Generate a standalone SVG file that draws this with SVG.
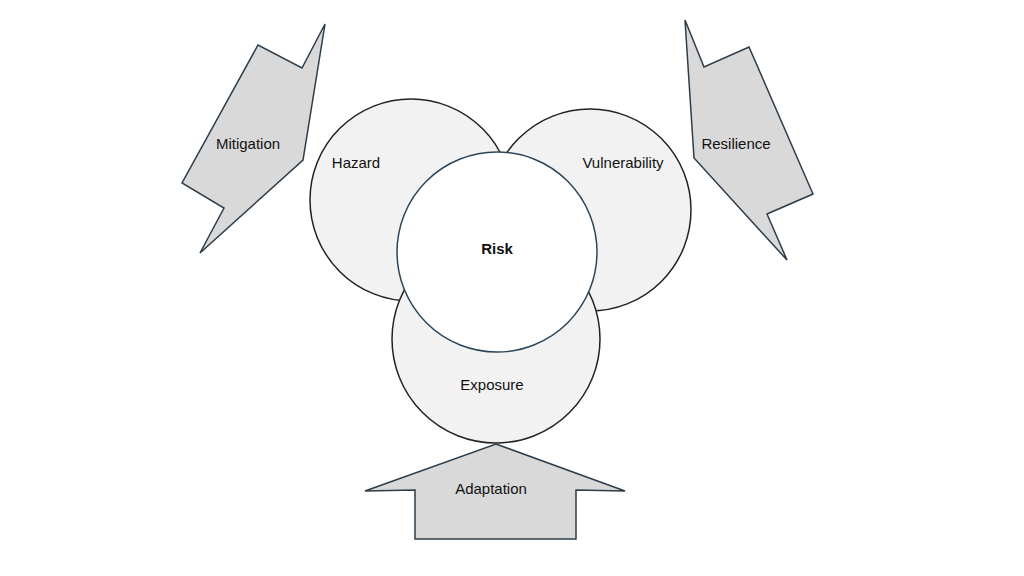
<svg xmlns="http://www.w3.org/2000/svg" width="1024" height="576" viewBox="0 0 1024 576">
<style>
.c{fill:#f2f2f2;stroke:#222;stroke-width:1.5}
.r{fill:#fff;stroke:#2d4657;stroke-width:1.5}
.a{fill:#d9d9d9;stroke:#2d3d4a;stroke-width:1.5;stroke-linejoin:miter}
text{font-family:"Liberation Sans",Arial,sans-serif;font-size:15px;fill:#111;text-anchor:middle}
</style>
<rect width="1024" height="576" fill="#fff"/>
<g id="hazard"><circle class="c" cx="411" cy="200" r="101"/></g>
<g id="vulnerability"><circle class="c" cx="590" cy="210" r="101"/></g>
<g id="exposure"><circle class="c" cx="496" cy="339" r="104"/></g>
<g id="risk"><circle class="r" cx="497" cy="252" r="100"/></g>
<text x="356" y="168">Hazard</text>
<text x="623" y="168">Vulnerability</text>
<text x="492" y="390">Exposure</text>
<text x="497" y="254" font-weight="bold">Risk</text>
<g id="mitigation"><polygon class="a" points="325,24 302,68 258,45 182,183 224,208 200,253 303,160"/><text x="248" y="149">Mitigation</text></g>
<g id="resilience"><polygon class="a" points="685,20 704,67 749,47 813,194 767,214 787,260 694,158"/><text x="736" y="149">Resilience</text></g>
<g id="adaptation"><polygon class="a" points="496,444 625,491 576,490 576,539 415,539 415,490 365,491"/><text x="491" y="494">Adaptation</text></g>
<g id="connectors"/>
</svg>
